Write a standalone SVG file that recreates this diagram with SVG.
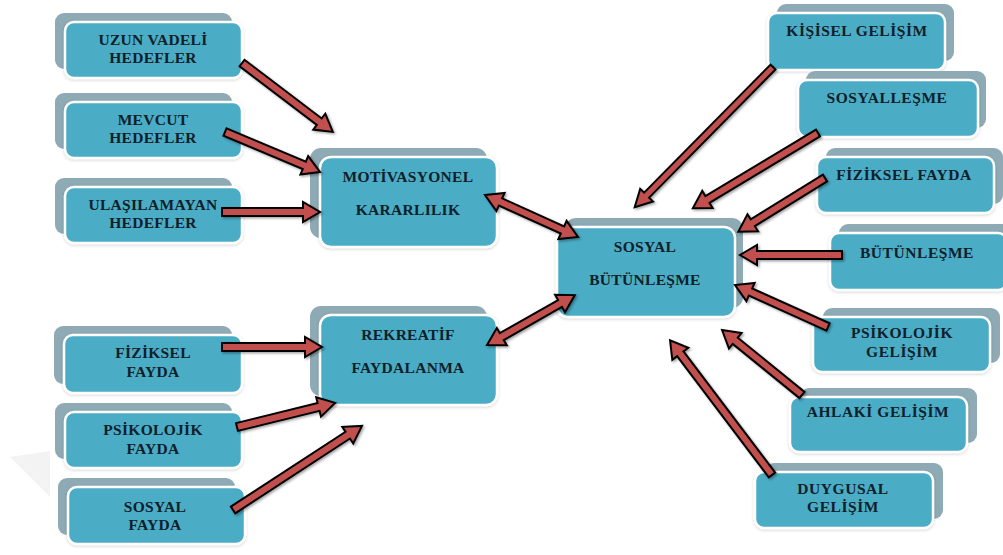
<svg xmlns="http://www.w3.org/2000/svg" width="1003" height="555" viewBox="0 0 1003 555">
<defs>
<filter id="ash" x="-20%" y="-50%" width="140%" height="200%">
<feDropShadow dx="1.5" dy="1.5" stdDeviation="1" flood-color="#000" flood-opacity="0.35"/>
</filter>
<filter id="bsh" x="-10%" y="-20%" width="120%" height="140%">
<feDropShadow dx="0" dy="1" stdDeviation="1.5" flood-color="#000" flood-opacity="0.18"/>
</filter>
</defs>
<style>
.back{fill:#8eaab5}
.front{fill:#4bacc6;stroke:#ffffff;stroke-width:2.5}
.t{font-family:"Liberation Serif","Times New Roman",serif;font-weight:bold;font-size:15.5px;fill:#102028;text-anchor:middle;letter-spacing:0.3px}
.r{letter-spacing:0.55px}
.arr{fill:#c0504d;stroke:#000;stroke-width:2;stroke-linejoin:miter;stroke-miterlimit:10}
</style>
<rect width="1003" height="555" fill="#ffffff"/>
<polygon points="10,457 50,451 50,497" fill="#f3f3f3"/>

<g id="uzun">
<rect class="back" x="55" y="13" width="177" height="56" rx="9"/>
<rect class="front" filter="url(#bsh)" x="65" y="22" width="177" height="56" rx="9"/>
<text class="t" x="153" y="45">UZUN VADELİ</text>
<text class="t" x="153" y="63">HEDEFLER</text>
</g>
<g id="mevcut">
<rect class="back" x="55" y="93" width="177" height="56" rx="9"/>
<rect class="front" filter="url(#bsh)" x="65" y="102" width="177" height="56" rx="9"/>
<text class="t" x="153" y="125">MEVCUT</text>
<text class="t" x="153" y="143">HEDEFLER</text>
</g>
<g id="ulasilamayan">
<rect class="back" x="55" y="178" width="177" height="56" rx="9"/>
<rect class="front" filter="url(#bsh)" x="65" y="187" width="177" height="56" rx="9"/>
<text class="t" x="153" y="210">ULAŞILAMAYAN</text>
<text class="t" x="153" y="228">HEDEFLER</text>
</g>
<g id="motivasyonel">
<rect class="back" x="310" y="148" width="177" height="90" rx="11"/>
<rect class="front" filter="url(#bsh)" x="320" y="157" width="177" height="90" rx="11"/>
<text class="t" x="408" y="182">MOTİVASYONEL</text>
<text class="t" x="408" y="215">KARARLILIK</text>
</g>
<g id="rekreatif">
<rect class="back" x="310" y="306" width="177" height="90" rx="11"/>
<rect class="front" filter="url(#bsh)" x="320" y="315" width="177" height="90" rx="11"/>
<text class="t" x="408" y="340">REKREATİF</text>
<text class="t" x="408" y="373">FAYDALANMA</text>
</g>
<g id="fiziksel-fayda-sol">
<rect class="back" x="54" y="326" width="178" height="58" rx="9"/>
<rect class="front" filter="url(#bsh)" x="64" y="335" width="178" height="58" rx="9"/>
<text class="t" x="153" y="358">FİZİKSEL</text>
<text class="t" x="153" y="377">FAYDA</text>
</g>
<g id="psikolojik-fayda">
<rect class="back" x="55" y="403" width="177" height="56" rx="9"/>
<rect class="front" filter="url(#bsh)" x="65" y="412" width="177" height="56" rx="9"/>
<text class="t" x="153" y="435">PSİKOLOJİK</text>
<text class="t" x="153" y="454">FAYDA</text>
</g>
<g id="sosyal-fayda">
<rect class="back" x="58" y="478" width="177" height="57" rx="9"/>
<rect class="front" filter="url(#bsh)" x="68" y="487" width="177" height="57" rx="9"/>
<text class="t" x="155" y="512">SOSYAL</text>
<text class="t" x="155" y="530">FAYDA</text>
</g>

<g id="sosyal-butunlesme">
<rect class="back" x="565" y="218" width="178" height="90" rx="11"/>
<rect class="front" filter="url(#bsh)" x="557" y="227" width="178" height="90" rx="11"/>
<text class="t" x="645" y="252">SOSYAL</text>
<text class="t" x="645" y="285">BÜTÜNLEŞME</text>
</g>
<g id="kisisel">
<rect class="back" x="777" y="4" width="177" height="57" rx="9"/>
<rect class="front" filter="url(#bsh)" x="768" y="13" width="177" height="57" rx="9"/>
<text class="t r" x="857" y="36">KİŞİSEL GELİŞİM</text>
</g>
<g id="sosyallesme">
<rect class="back" x="806" y="71" width="180" height="57" rx="9"/>
<rect class="front" filter="url(#bsh)" x="798" y="80" width="180" height="57" rx="9"/>
<text class="t r" x="887" y="103">SOSYALLEŞME</text>
</g>
<g id="fiziksel-fayda-sag">
<rect class="back" x="826" y="148" width="177" height="56" rx="9"/>
<rect class="front" filter="url(#bsh)" x="817" y="157" width="177" height="56" rx="9"/>
<text class="t r" x="904" y="180">FİZİKSEL FAYDA</text>
</g>
<g id="butunlesme">
<rect class="back" x="839" y="224" width="177" height="57" rx="9"/>
<rect class="front" filter="url(#bsh)" x="830" y="233" width="177" height="57" rx="9"/>
<text class="t r" x="917" y="258">BÜTÜNLEŞME</text>
</g>
<g id="psikolojik-gelisim">
<rect class="back" x="823" y="308" width="177" height="55" rx="9"/>
<rect class="front" filter="url(#bsh)" x="813" y="317" width="177" height="55" rx="9"/>
<text class="t r" x="902" y="338">PSİKOLOJİK</text>
<text class="t r" x="902" y="357">GELİŞİM</text>
</g>
<g id="ahlaki">
<rect class="back" x="800" y="388" width="177" height="55" rx="9"/>
<rect class="front" filter="url(#bsh)" x="790" y="397" width="177" height="55" rx="9"/>
<text class="t r" x="878" y="417">AHLAKİ GELİŞİM</text>
</g>
<g id="duygusal">
<rect class="back" x="765" y="463" width="178" height="56" rx="9"/>
<rect class="front" filter="url(#bsh)" x="755" y="472" width="178" height="56" rx="9"/>
<text class="t r" x="843" y="494">DUYGUSAL</text>
<text class="t r" x="843" y="512">GELİŞİM</text>
</g>

<g id="connectors" filter="url(#ash)">
<path class="arr" transform="translate(242,63) rotate(37.2)" d="M0,-4 H97 V-10 L114,0 L97,10 V4 H0 Z"/>
<path class="arr" transform="translate(225,132) rotate(22.8)" d="M0,-4 H86 V-10 L103,0 L86,10 V4 H0 Z"/>
<path class="arr" transform="translate(222,212)" d="M0,-4 H81 V-10 L98,0 L81,10 V4 H0 Z"/>
<path class="arr" transform="translate(485,195) rotate(24.3)" d="M0,0 L17,-10 V-4 H85 V-10 L102,0 L85,10 V4 H17 V10 Z"/>
<path class="arr" transform="translate(487,345) rotate(-29.6)" d="M0,0 L17,-10 V-4 H84 V-10 L101,0 L84,10 V4 H17 V10 Z"/>
<path class="arr" transform="translate(222,347)" d="M0,-4 H83 V-10 L100,0 L83,10 V4 H0 Z"/>
<path class="arr" transform="translate(237,427) rotate(-13.8)" d="M0,-4 H84 V-10 L101,0 L84,10 V4 H0 Z"/>
<path class="arr" transform="translate(233,510) rotate(-33.1)" d="M0,-4 H137 V-10 L154,0 L137,10 V4 H0 Z"/>
<path class="arr" transform="translate(773,67) rotate(134.6)" d="M0,-3.5 H180 V-9 L197,0 L180,9 V3.5 H0 Z"/>
<path class="arr" transform="translate(818,133) rotate(149)" d="M0,-4 H129 V-10 L146,0 L129,10 V4 H0 Z"/>
<path class="arr" transform="translate(825,178) rotate(148.2)" d="M0,-4 H85 V-10 L102,0 L85,10 V4 H0 Z"/>
<path class="arr" transform="translate(842,255) rotate(180)" d="M0,-4 H85 V-10 L102,0 L85,10 V4 H0 Z"/>
<path class="arr" transform="translate(828,327) rotate(-155.7)" d="M0,-4 H85 V-10 L102,0 L85,10 V4 H0 Z"/>
<path class="arr" transform="translate(802,395) rotate(-140.9)" d="M0,-4 H86 V-10 L103,0 L86,10 V4 H0 Z"/>
<path class="arr" transform="translate(772,475) rotate(-127.1)" d="M0,-4 H152 V-10 L169,0 L152,10 V4 H0 Z"/>
</g>
</svg>
